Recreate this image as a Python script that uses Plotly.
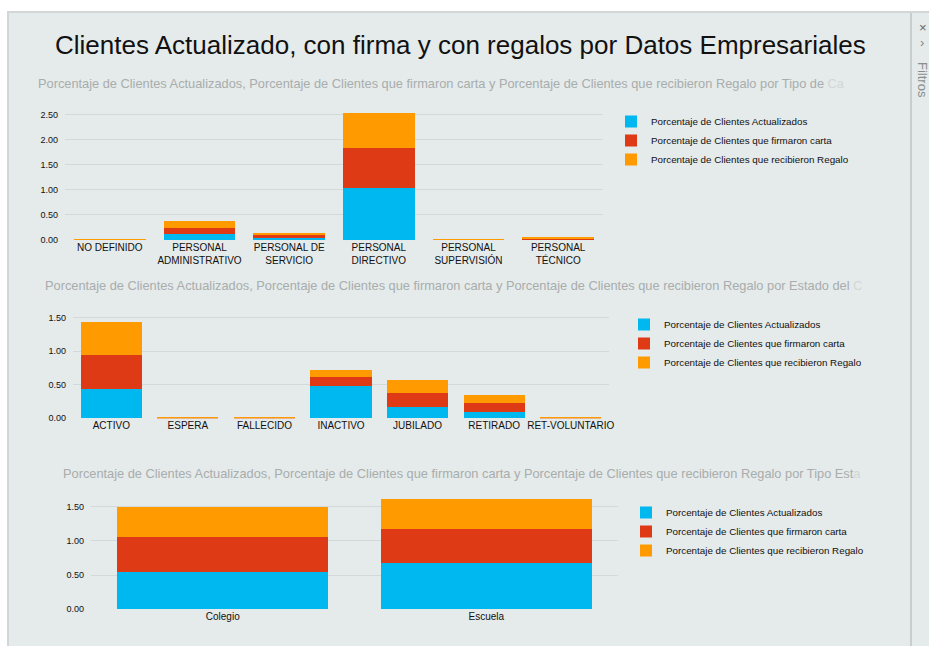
import plotly.graph_objects as go

# reference screen size; figure slightly enlarged to match observed rendering scale
SW, SH = 929, 646
W, H = 934, 651

# ---------------- data ----------------
series_names = [
    "Porcentaje de Clientes Actualizados",
    "Porcentaje de Clientes que firmaron carta",
    "Porcentaje de Clientes que recibieron Regalo",
]
series_colors = ["#00B8F0", "#DF3A16", "#FF9A00"]

cat1 = ["NO DEFINIDO", "PERSONAL ADMINISTRATIVO", "PERSONAL DE SERVICIO",
        "PERSONAL DIRECTIVO", "PERSONAL SUPERVISIÓN", "PERSONAL TÉCNICO"]
tick1 = ["NO DEFINIDO", "PERSONAL<br>ADMINISTRATIVO", "PERSONAL DE<br>SERVICIO",
         "PERSONAL<br>DIRECTIVO", "PERSONAL<br>SUPERVISIÓN", "PERSONAL<br>TÉCNICO"]
act1 = [0.006, 0.11, 0.05, 1.04, 0.0, 0.015]
firm1 = [0.006, 0.12, 0.04, 0.80, 0.005, 0.015]
reg1 = [0.006, 0.15, 0.04, 0.70, 0.025, 0.03]

cat2 = ["ACTIVO", "ESPERA", "FALLECIDO", "INACTIVO", "JUBILADO", "RETIRADO", "RET-VOLUNTARIO"]
act2 = [0.44, 0.0, 0.0, 0.48, 0.17, 0.10, 0.0]
firm2 = [0.50, 0.005, 0.005, 0.14, 0.20, 0.13, 0.005]
reg2 = [0.49, 0.02, 0.02, 0.10, 0.20, 0.12, 0.02]

cat3 = ["Colegio", "Escuela"]
act3 = [0.54, 0.68]
firm3 = [0.52, 0.49]
reg3 = [0.44, 0.44]

title_text = "Clientes Actualizado, con firma y con regalos por Datos Empresariales"
sub_base = ("Porcentaje de Clientes Actualizados, Porcentaje de Clientes que firmaron carta "
            "y Porcentaje de Clientes que recibieron Regalo por ")
sub1 = (sub_base + "Tipo de ", "Ca")
sub2 = (sub_base + "Estado del ", "C")
sub3 = (sub_base + "Tipo Est", "a")

# ---------------- helpers (screen pixels -> paper) ----------------
def px(x):
    return x / SW

def py(y):
    return 1 - y / SH

BG = "#E5EAEA"
GRID = "#D3D9D9"
FONT = "Liberation Sans, Arial, sans-serif"

fig = go.Figure()

charts = [
    (cat1, tick1, [act1, firm1, reg1], "x", "y", "legend"),
    (cat2, cat2, [act2, firm2, reg2], "x2", "y2", "legend2"),
    (cat3, cat3, [act3, firm3, reg3], "x3", "y3", "legend3"),
]
for cats, ticks, vals, xa, ya, lg in charts:
    for name, color, v in zip(series_names, series_colors, vals):
        fig.add_trace(go.Bar(
            x=cats, y=v, name=name, marker=dict(color=color, line=dict(width=0)),
            xaxis=xa, yaxis=ya, legend=lg, showlegend=True,
        ))

# axis geometry (screen pixels)
geo = [
    (65, 603, 240.0, 240.0 - 2.6 * 50.1, 2.6),
    (73, 609, 418.3, 418.3 - 1.6 * 67.3, 1.6),
    (91, 618, 609.3, 609.3 - 1.7 * 68.4, 1.7),
]

layout = dict(
    width=W, height=H,
    margin=dict(l=0, r=0, t=0, b=0),
    paper_bgcolor="white",
    plot_bgcolor="rgba(0,0,0,0)",
    barmode="stack",
    bargap=0.2,
    font=dict(family=FONT, color="#222222"),
)

for i, ((x0, x1, yb, yt, rtop), (cats, ticks, _, _, _, _)) in enumerate(zip(geo, charts)):
    sfx = "" if i == 0 else str(i + 1)
    layout["xaxis" + sfx] = dict(
        domain=[px(x0), px(x1)], anchor="y" + sfx,
        tickmode="array", tickvals=cats, ticktext=ticks,
        tickfont=dict(size=10, color="#111111"),
        showgrid=False, showline=False, zeroline=False, ticks="",
        fixedrange=True,
    )
    layout["yaxis" + sfx] = dict(
        domain=[py(yb), py(yt)], anchor="x" + sfx,
        range=[0, rtop], dtick=0.5, tick0=0, tickformat=".2f",
        tickfont=dict(size=9, color="#111111"),
        showgrid=True, gridcolor=GRID, gridwidth=1,
        zeroline=False, showline=False, ticks="", ticklabelstandoff=6,
        fixedrange=True,
    )

# legends (screen px of top-left)
leg_pos = [(611, 107), (624, 310), (626, 498)]
for i, (lx, ly) in enumerate(leg_pos):
    key = "legend" if i == 0 else "legend" + str(i + 1)
    layout[key] = dict(
        x=px(lx), y=py(ly), xanchor="left", yanchor="top",
        bgcolor="rgba(0,0,0,0)", borderwidth=0,
        font=dict(size=9.8, color="#111111", family=FONT),
        traceorder="normal", itemclick=False, itemdoubleclick=False,
    )

fig.update_layout(**layout)

# background panel & borders
shapes = [
    dict(type="rect", xref="paper", yref="paper", x0=px(8), x1=1.02, y0=-0.02, y1=py(12),
         fillcolor=BG, line=dict(color="#D2D6D6", width=2), layer="below"),
    dict(type="line", xref="paper", yref="paper", x0=px(911), x1=px(911), y0=0, y1=py(13),
         line=dict(color="#C9CDCD", width=2), layer="below"),
]
fig.update_layout(shapes=shapes)

annotations = [
    dict(text=title_text, x=px(460), y=py(45), xref="paper", yref="paper",
         showarrow=False, font=dict(size=26, color="#111111", family=FONT),
         xanchor="center", yanchor="middle"),
]
sub_pos = [(36, 84, sub1), (43, 285, sub2), (61, 473, sub3)]
for sx, sy, (main, fade) in sub_pos:
    annotations.append(dict(
        text=main + '<span style="color:#D2D7D7">' + fade + "</span>",
        x=px(sx), y=py(sy), xref="paper", yref="paper", showarrow=False,
        xanchor="left", yanchor="middle",
        font=dict(size=12.8, color="#A8ADAD", family=FONT)))

annotations += [
    dict(text="×", x=px(923), y=py(27), xref="paper", yref="paper", showarrow=False,
         font=dict(size=13, color="#666666", family=FONT), xanchor="center", yanchor="middle"),
    dict(text="›", x=px(922), y=py(43), xref="paper", yref="paper", showarrow=False,
         font=dict(size=13, color="#888888", family=FONT), xanchor="center", yanchor="middle"),
    dict(text="Filtros", x=px(922), y=py(80), xref="paper", yref="paper", showarrow=False,
         textangle=90, font=dict(size=13, color="#8A8E8E", family=FONT),
         xanchor="center", yanchor="middle"),
]
fig.update_layout(annotations=annotations)

fig.write_html(
    "out.html",
    config={"displayModeBar": False},
    post_script="document.documentElement.style.overflow='hidden';"
                "document.body.style.margin='0';document.body.style.overflow='hidden';",
)
